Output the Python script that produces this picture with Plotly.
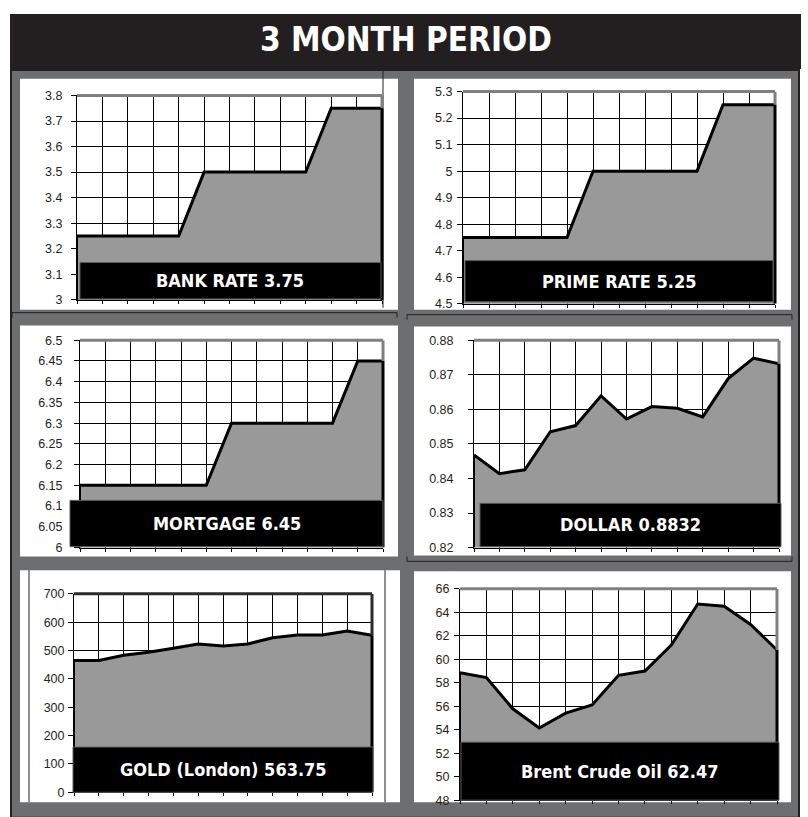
import plotly.graph_objects as go

W, H = 808, 817

# ---------------- data ----------------
periods = list(range(13))

bank_rate = [3.25, 3.25, 3.25, 3.25, 3.25, 3.5, 3.5, 3.5, 3.5, 3.5, 3.75, 3.75, 3.75]
prime_rate = [4.75, 4.75, 4.75, 4.75, 4.75, 5.0, 5.0, 5.0, 5.0, 5.0, 5.25, 5.25, 5.25]
mortgage = [6.15, 6.15, 6.15, 6.15, 6.15, 6.15, 6.30, 6.30, 6.30, 6.30, 6.30, 6.45, 6.45]
dollar = [0.8468, 0.8414, 0.8425, 0.8535, 0.8553, 0.8639, 0.8572, 0.8608, 0.8603, 0.8578, 0.8689, 0.8748, 0.8732]
gold = [465, 465, 483, 494, 508, 523, 516, 523, 545, 555, 555, 569, 554]
brent = [58.86, 58.44, 55.78, 54.15, 55.41, 56.11, 58.63, 59.0, 61.21, 64.71, 64.52, 62.97, 60.79]

bank_ticks = [3.0, 3.1, 3.2, 3.3, 3.4, 3.5, 3.6, 3.7, 3.8]
bank_ticklabels = ["3", "3.1", "3.2", "3.3", "3.4", "3.5", "3.6", "3.7", "3.8"]
prime_ticks = [4.5, 4.6, 4.7, 4.8, 4.9, 5.0, 5.1, 5.2, 5.3]
prime_ticklabels = ["4.5", "4.6", "4.7", "4.8", "4.9", "5", "5.1", "5.2", "5.3"]
mortgage_ticks = [6.0, 6.05, 6.1, 6.15, 6.2, 6.25, 6.3, 6.35, 6.4, 6.45, 6.5]
mortgage_ticklabels = ["6", "6.05", "6.1", "6.15", "6.2", "6.25", "6.3", "6.35", "6.4", "6.45", "6.5"]
dollar_ticks = [0.82, 0.83, 0.84, 0.85, 0.86, 0.87, 0.88]
dollar_ticklabels = ["0.82", "0.83", "0.84", "0.85", "0.86", "0.87", "0.88"]
gold_ticks = [0, 100, 200, 300, 400, 500, 600, 700]
gold_ticklabels = ["0", "100", "200", "300", "400", "500", "600", "700"]
brent_ticks = [48, 50, 52, 54, 56, 58, 60, 62, 64, 66]
brent_ticklabels = ["48", "50", "52", "54", "56", "58", "60", "62", "64", "66"]

titles = ["BANK RATE 3.75", "PRIME RATE 5.25", "MORTGAGE 6.45",
          "DOLLAR 0.8832", "GOLD (London) 563.75", "Brent Crude Oil 62.47"]
main_title = "3 MONTH PERIOD"

series = [bank_rate, prime_rate, mortgage, dollar, gold, brent]
ticks = [bank_ticks, prime_ticks, mortgage_ticks, dollar_ticks, gold_ticks, brent_ticks]
ticklabels = [bank_ticklabels, prime_ticklabels, mortgage_ticklabels,
              dollar_ticklabels, gold_ticklabels, brent_ticklabels]

# ---------------- geometry (pixels) ----------------
def X(px):
    return px / W


def Y(py):
    return 1 - py / H


geo = [
    dict(plot=(77, 90, 382, 298), panel=(20, 73, 398, 308), box=(80, 260, 381, 297), standoff=6, border="#808080"),
    dict(plot=(463, 86, 775, 302), panel=(414, 73, 791, 308), box=(465, 258, 773, 300), standoff=2, border="#808080"),
    dict(plot=(80, 339, 383, 550), panel=(20, 324, 398, 559), box=(70, 502, 383, 549), standoff=9, border="#808080"),
    dict(plot=(474, 339, 779, 550), panel=(414, 325, 791, 558), box=(480, 505, 781, 549), standoff=12, border="#808080"),
    dict(plot=(74, 597, 372, 799), panel=(20, 573, 400, 809), box=(73, 753, 373, 799), standoff=1, border="#2b2b2b"),
    dict(plot=(460, 592, 777, 807), panel=(414, 574, 791, 809), box=(461, 748, 779, 807), standoff=2, border="#808080"),
]

INK = "#231f20"
FRAME = "#6d6e70"
FILL = "#999999"
LABEL_FONT = "DejaVu Sans Condensed, Liberation Sans Narrow, Arial Narrow, sans-serif"

fig = go.Figure()
shapes = []
annotations = []

# background: header + gray frame (frame runs off the bottom edge)
shapes.append(dict(type="rect", xref="paper", yref="paper", layer="below",
                   x0=X(11), x1=X(799), y0=Y(825), y1=Y(64),
                   fillcolor=FRAME, line=dict(color=INK, width=2)))
shapes.append(dict(type="rect", xref="paper", yref="paper", layer="below",
                   x0=X(10), x1=X(801), y0=Y(63), y1=Y(7),
                   fillcolor=INK, line=dict(width=0)))

for g in geo:
    l, t, r, b = g["panel"]
    shapes.append(dict(type="rect", xref="paper", yref="paper", layer="below",
                       x0=X(l), x1=X(r), y0=Y(b), y1=Y(t),
                       fillcolor="white", line=dict(width=0)))

# thin cut lines (print artefacts)
for (x0, y0, x1, y1) in [(383, 63, 383, 306), (29, 573, 29, 809), (385, 573, 385, 809),
                         (12, 311, 397, 311), (407, 313, 792, 313), (407, 564, 792, 564),
                         (407, 313, 407, 318), (792, 313, 792, 318), (12, 311, 12, 316), (397, 311, 397, 316),
                         (407, 559, 407, 564), (792, 559, 792, 564)]:
    shapes.append(dict(type="line", xref="paper", yref="paper", layer="above",
                       x0=X(x0), x1=X(x1), y0=Y(y0), y1=Y(y1),
                       line=dict(color=INK, width=1)))

for i, (vals, tv, tt, g) in enumerate(zip(series, ticks, ticklabels, geo)):
    n = i + 1
    sx = "" if n == 1 else str(n)
    xa, ya = "x" + sx, "y" + sx
    l, t, r, b = g["plot"]

    fig.add_trace(go.Scatter(
        x=periods, y=vals, mode="lines", xaxis=xa, yaxis=ya,
        line=dict(color="black", width=3), fill="tozeroy", fillcolor=FILL,
        hoverinfo="skip", showlegend=False))

    fig.layout["xaxis" + sx] = dict(
        domain=[X(l), X(r)], anchor=ya, range=[periods[0], periods[-1]],
        tickvals=periods, showticklabels=False, showgrid=True, gridcolor="black", gridwidth=1,
        showline=True, linecolor="black", linewidth=1, ticks="outside", ticklen=3,
        tickcolor="black", zeroline=False, fixedrange=True)
    fig.layout["yaxis" + sx] = dict(
        domain=[Y(b), Y(t)], anchor=xa, range=[tv[0], tv[-1]],
        tickvals=tv, ticktext=tt, showgrid=True, gridcolor="black", gridwidth=1,
        showline=True, linecolor="black", linewidth=1, ticks="outside", ticklen=5,
        tickcolor="black", zeroline=False, fixedrange=True,
        ticklabelstandoff=g["standoff"],
        tickfont=dict(family="Liberation Sans, Arial, sans-serif", size=12.5, color=INK))

    xd = xa + " domain"
    # plot-area frame: top and right in gray, filled edges in black
    shapes.append(dict(type="line", xref=xd, yref=ya + " domain", x0=0, x1=1, y0=1, y1=1,
                       line=dict(color=g["border"], width=3), layer="above"))
    shapes.append(dict(type="line", xref=xd, yref=ya, x0=1, x1=1, y0=vals[-1], y1=tv[-1],
                       line=dict(color=g["border"], width=3), layer="above"))
    shapes.append(dict(type="line", xref=xd, yref=ya, x0=1, x1=1, y0=tv[0], y1=vals[-1],
                       line=dict(color="black", width=3), layer="above"))
    shapes.append(dict(type="line", xref=xd, yref=ya, x0=0, x1=0, y0=tv[0], y1=vals[0],
                       line=dict(color="black", width=2), layer="above"))

    # label box
    bl, bt, br, bb = g["box"]
    shapes.append(dict(type="rect", xref="paper", yref="paper", layer="above",
                       x0=X(bl), x1=X(br), y0=Y(bb), y1=Y(bt),
                       fillcolor="black", line=dict(color="#5a5a5a", width=1)))
    annotations.append(dict(
        xref="paper", yref="paper", x=X((bl + br) / 2), y=Y((bt + bb) / 2),
        xanchor="center", yanchor="middle", showarrow=False,
        text="<b>" + titles[i] + "</b>",
        font=dict(family=LABEL_FONT, size=18, color="white")))

annotations.append(dict(
    xref="paper", yref="paper", x=X(406), y=Y(33), xanchor="center", yanchor="middle",
    showarrow=False, text="<b>" + main_title + "</b>",
    font=dict(family=LABEL_FONT, size=33, color="white")))

fig.update_layout(
    width=W, height=H, margin=dict(l=0, r=0, t=0, b=0),
    paper_bgcolor="white", plot_bgcolor="white",
    shapes=shapes, annotations=annotations, showlegend=False)

fig.write_html("out.html", config={"displayModeBar": False},
               post_script="document.body.style.margin='0';document.body.style.padding='0';")
